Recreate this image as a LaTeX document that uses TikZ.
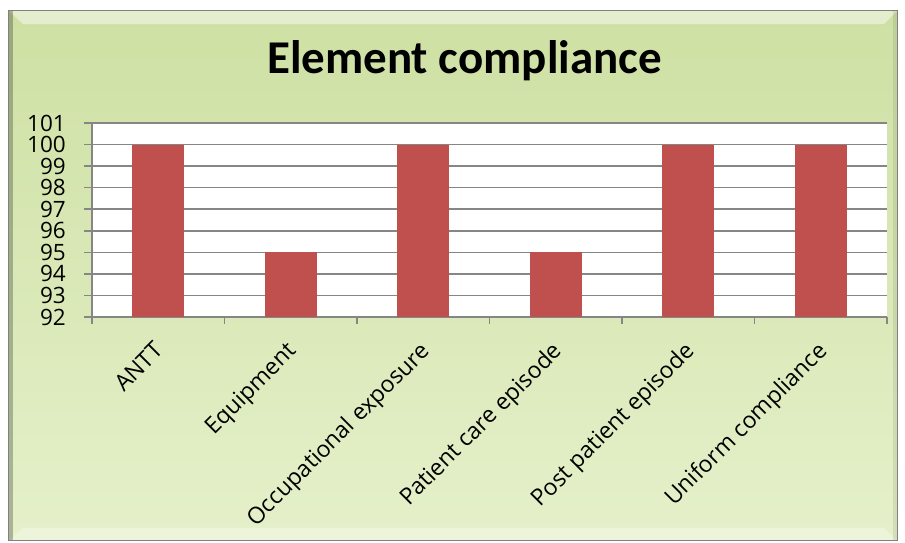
\documentclass[tikz,border=0pt]{standalone}
\usepackage{fontspec}
\setmainfont{Carlito}
\newfontfamily\axisfont{Open Sans}
\definecolor{barred}{RGB}{192,80,77}
\definecolor{gridgray}{RGB}{134,134,134}
\definecolor{paneltop}{RGB}{206,224,163}
\definecolor{panelmid}{RGB}{244,250,226}
\definecolor{panelbot}{RGB}{229,240,202}

\begin{document}
\begin{tikzpicture}[x=1pt,y=-1pt,
  grid line/.style={draw=gridgray,line width=1.5pt},
  axis line/.style={draw=gridgray,line width=1.5pt},
  bar/.style={fill=barred},
  value label/.style={anchor=east,inner sep=0pt,font=\axisfont\fontsize{22.5}{22.5}\selectfont},
  cat label/.style={anchor=north east,rotate=45,inner sep=0pt,font=\axisfont\fontsize{23}{23}\selectfont},
  title label/.style={anchor=base,inner sep=0pt,font=\fontsize{47}{47}\selectfont\bfseries}]

  \useasboundingbox (0,0) rectangle (905,542);
  \fill[white] (0,0) rectangle (905,542);

  % panel with gradient and bevel
  \shade[top color=paneltop,middle color=panelmid,bottom color=panelbot] (9,10) rectangle (897,540);
  \fill[white,opacity=.45] (9,11) -- (897,11) -- (884,24) -- (23,24) -- cycle;
  \fill[white,opacity=.3] (9,540) -- (897,540) -- (884,528) -- (23,528) -- cycle;
  \fill[black,opacity=.25] (9,10) rectangle (13,540);
  \fill[black,opacity=.08] (893,10) rectangle (897,540);
  \draw[gray,line width=1pt] (8.5,10) rectangle (897,540);

  % title
  \node[title label] (title) at (464.5,73) {Element compliance};

  % plot area
  \fill[white] (92,123) rectangle (887,317);
  \foreach \v in {92,...,101}{
    \draw[grid line] (84,{317-(\v-92)*21.556}) -- (887,{317-(\v-92)*21.556});
    \node[value label] (val\v) at (66,{317-(\v-92)*21.556}) {\v};
  }
  \draw[axis line] (92,123) -- (92,317);
  \foreach \k in {0,...,6}
    \draw[axis line] ({92+\k*132.5},317) -- ({92+\k*132.5},324);

  % bars and category labels
  \foreach \name/\val [count=\i] in {ANTT/100,Equipment/95,Occupational exposure/100,%
      Patient care episode/95,Post patient episode/100,Uniform compliance/100}{
    \fill[bar] ({92+(\i-0.5)*132.5-26},317) rectangle ({92+(\i-0.5)*132.5+26},{317-(\val-92)*21.556});
    \node[cat label] (cat\i) at ({92+(\i-0.5)*132.5-5},340) {\name};
  }
\end{tikzpicture}
\end{document}
